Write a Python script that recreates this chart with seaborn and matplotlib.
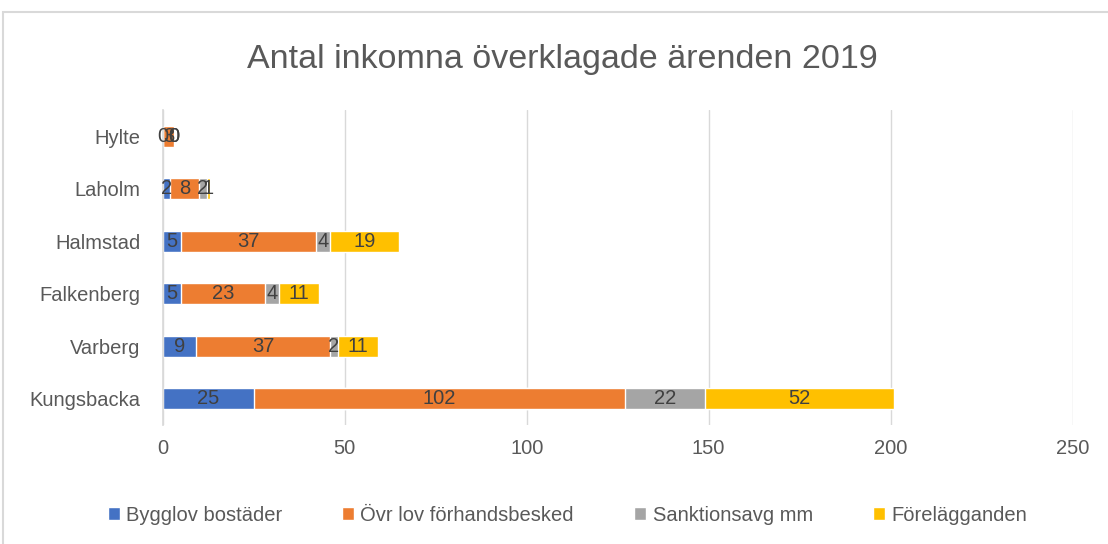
import numpy as np
import pandas as pd
import seaborn as sns
import matplotlib.pyplot as plt
from matplotlib.patches import Rectangle

# data, top row first
kommuner = ["Hylte", "Laholm", "Halmstad", "Falkenberg", "Varberg", "Kungsbacka"]
serier = ["Bygglov bostäder", "Övr lov förhandsbesked", "Sanktionsavg mm", "Förelägganden"]
bygglov = [0, 2, 5, 5, 9, 25]
ovr_lov = [3, 8, 37, 23, 37, 102]
sanktion = [0, 2, 4, 4, 2, 22]
forelagg = [0, 1, 19, 11, 11, 52]
farger = ["#4472C4", "#ED7D31", "#A5A5A5", "#FFC000"]

sns.set_theme(style="white")
plt.rcParams["font.family"] = ["Liberation Sans", "DejaVu Sans"]

varden = np.array([bygglov, ovr_lov, sanktion, forelagg])
kum = np.cumsum(varden, axis=0)

fig = plt.figure(figsize=(11.08, 5.44), dpi=100)
ax = fig.add_axes([0.147, 0.219, 0.821, 0.579])

# stacked bars: draw the running totals from the top down
for i in range(3, -1, -1):
    df = pd.DataFrame({"kommun": kommuner, "v": kum[i]})
    sns.barplot(data=df, x="v", y="kommun", orient="y", color=farger[i],
                saturation=1, width=0.4, ax=ax, label=serier[i])

# value labels in the middle of each segment
for i in range(4):
    start = kum[i] - varden[i]
    for j, k in enumerate(kommuner):
        ax.text(start[j] + varden[i][j] / 2, j, str(varden[i][j]),
                ha="center", va="center", fontsize=14.5, color="#404040")

ax.set_xlim(0, 250)
ax.set_ylim(5.5, -0.5)
ax.set_xticks(range(0, 251, 50))
ax.set_xlabel("")
ax.set_ylabel("")
ax.grid(axis="x", color="#D9D9D9", linewidth=1)
ax.set_axisbelow(True)
for s in ["top", "right", "bottom"]:
    ax.spines[s].set_visible(False)
ax.spines["left"].set_color("#D9D9D9")
ax.tick_params(axis="both", length=0, labelsize=14.5, colors="#595959")
ax.tick_params(axis="y", pad=16)
ax.tick_params(axis="x", pad=10)

fig.text(0.508, 0.89, "Antal inkomna överklagade ärenden 2019", ha="center", va="center",
         fontsize=24.5, color="#595959")

# legend in series order
h, l = ax.get_legend_handles_labels()
ordning = [l.index(s) for s in serier]
fig.legend([h[o] for o in ordning], serier, loc="center", bbox_to_anchor=(0.512, 0.053),
           ncol=4, frameon=False, fontsize=14.5, handlelength=0.6, handleheight=0.6,
           columnspacing=3.0, handletextpad=0.3, labelcolor="#595959")
if ax.legend_:
    ax.legend_.remove()

fig.patches.append(Rectangle((3 / 1108, -0.05), 1.1, 1.05 - 12 / 544, transform=fig.transFigure,
                             fill=False, edgecolor="#D9D9D9", linewidth=1.5))

fig.savefig("out.png", dpi=100, facecolor="white")
